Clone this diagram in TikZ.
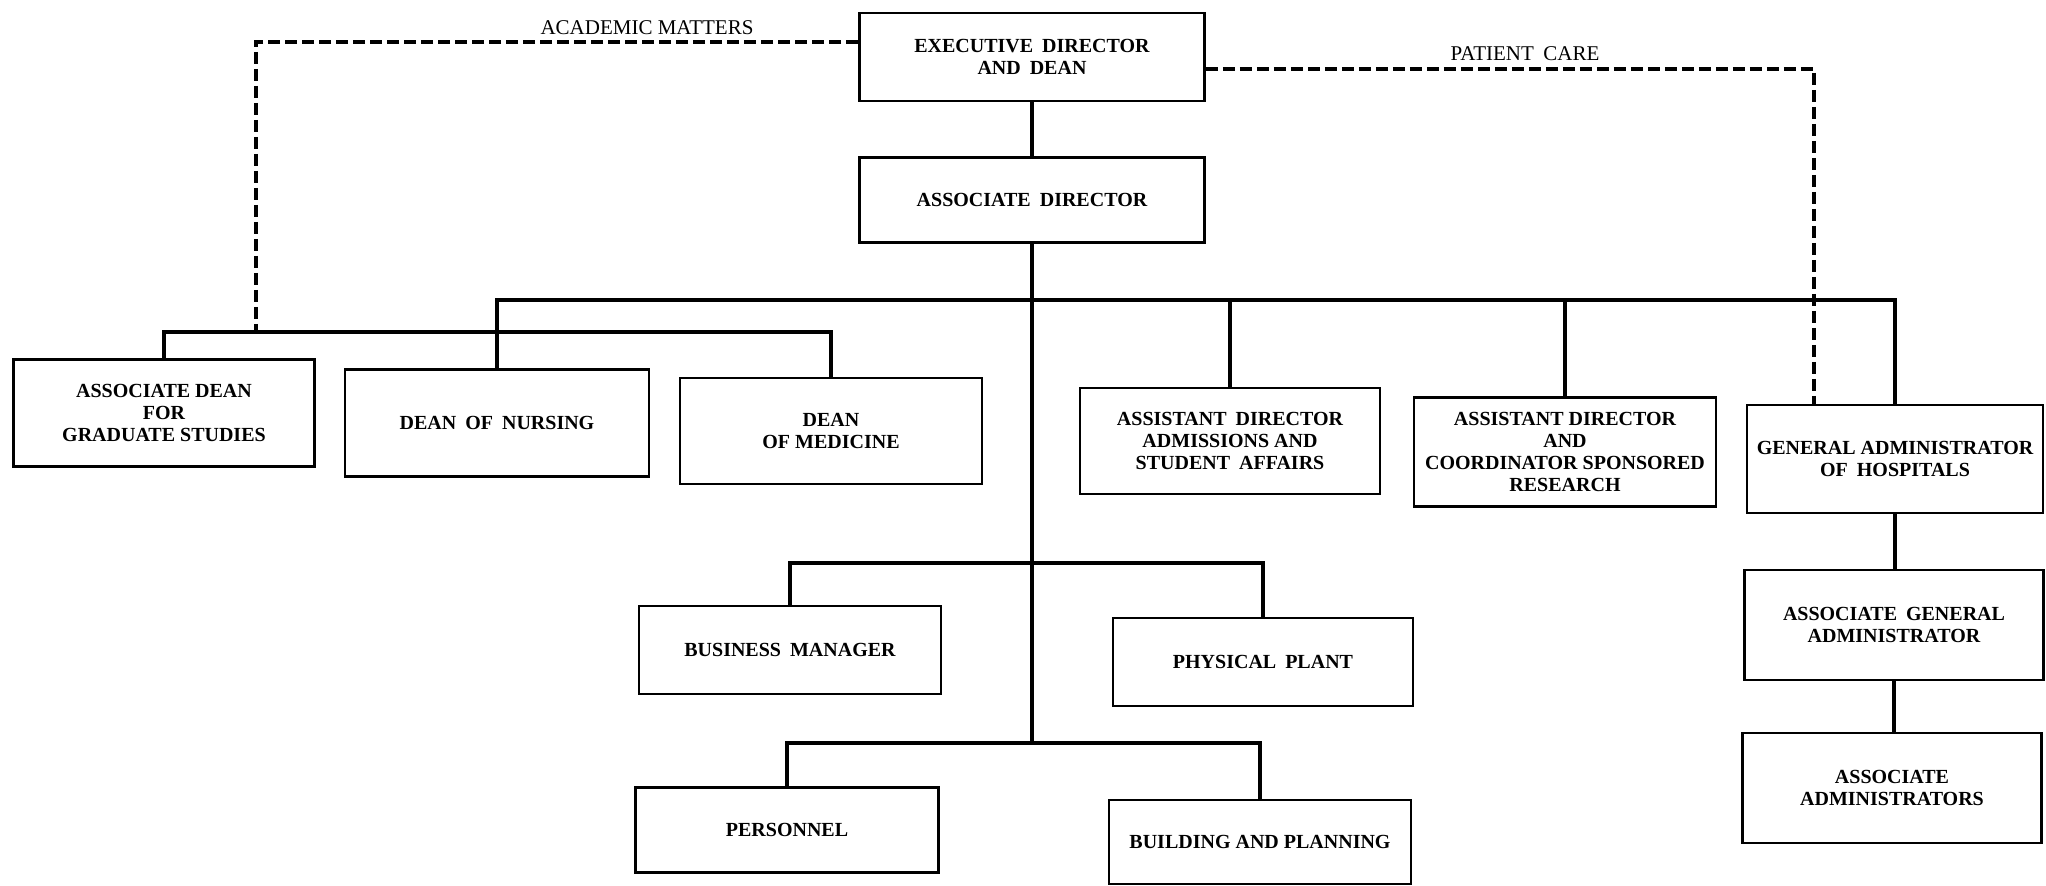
\documentclass[tikz,border=0pt]{standalone}
\usepackage{fontspec}
\setmainfont{Liberation Serif}
\newcommand{\ds}{\hspace{0.45em}}
\begin{document}
\begin{tikzpicture}[x=0.5pt,y=-0.5pt,
  bx/.style={draw, line width=1.4pt, inner sep=0pt, align=center,
    font=\bfseries\fontsize{10}{11}\selectfont},
  link/.style={line width=1.7pt},
  dotted link/.style={line width=1.7pt, dash pattern=on 6pt off 2.5pt},
  lbl/.style={font=\fontsize{10.5}{12}\selectfont, inner sep=0pt}]
\useasboundingbox (0,0) rectangle (2046,885);
% boxes
\node[bx, minimum width=172.5pt, minimum height=44pt] (exec) at (1032,57) {EXECUTIVE\ds DIRECTOR\\AND\ds DEAN};
\node[bx, minimum width=172.5pt, minimum height=42.5pt] (assocdir) at (1032,200) {ASSOCIATE\ds DIRECTOR};
\node[bx, minimum width=150.5pt, minimum height=53.5pt] (adgs) at (164,413) {ASSOCIATE DEAN\\FOR\\GRADUATE STUDIES};
\node[bx, minimum width=152pt, minimum height=53.5pt] (nursing) at (497,423) {DEAN\ds OF\ds NURSING};
\node[bx, minimum width=151pt, minimum height=53pt] (medicine) at (831,431) {DEAN\\OF MEDICINE};
\node[bx, minimum width=150pt, minimum height=53pt] (admissions) at (1230,441) {ASSISTANT\ds DIRECTOR\\ADMISSIONS AND\\STUDENT\ds AFFAIRS};
\node[bx, minimum width=151pt, minimum height=54.5pt] (coord) at (1565,452) {ASSISTANT DIRECTOR\\AND\\COORDINATOR SPONSORED\\RESEARCH};
\node[bx, minimum width=148pt, minimum height=54pt] (ga) at (1895,459) {GENERAL ADMINISTRATOR\\OF\ds HOSPITALS};
\node[bx, minimum width=149.5pt, minimum height=55pt] (aga) at (1894,625) {ASSOCIATE\ds GENERAL\\ADMINISTRATOR};
\node[bx, minimum width=149.5pt, minimum height=55pt] (aa) at (1892,788) {ASSOCIATE\\ADMINISTRATORS};
\node[bx, minimum width=151pt, minimum height=44pt] (bm) at (790,650) {BUSINESS\ds MANAGER};
\node[bx, minimum width=150pt, minimum height=44pt] (pp) at (1263,662) {PHYSICAL\ds PLANT};
\node[bx, minimum width=151.5pt, minimum height=42.5pt] (pers) at (787,830) {PERSONNEL};
\node[bx, minimum width=151pt, minimum height=42pt] (bp) at (1260,842) {BUILDING AND PLANNING};
% bus levels
\coordinate (ub) at (0,300);
\coordinate (lb) at (0,332);
\coordinate (mb1) at (0,563);
\coordinate (mb2) at (0,743);
% solid connectors
\draw[link] (exec.south) -- (assocdir.north);
\draw[link] (assocdir.south) -- (assocdir.south |- mb2);
\draw[link] (nursing.north) -- (nursing.north |- ub) -- (ga.north |- ub) -- (ga.north);
\draw[link] (admissions.north) -- (admissions.north |- ub);
\draw[link] (coord.north) -- (coord.north |- ub);
\draw[link] (adgs.north) -- (adgs.north |- lb) -- (medicine.north |- lb) -- (medicine.north);
\draw[link] (bm.north) -- (bm.north |- mb1) -- (pp.north |- mb1) -- (pp.north);
\draw[link] (pers.north) -- (pers.north |- mb2) -- (bp.north |- mb2) -- (bp.north);
\draw[link] (ga.south) -- (ga.south |- aga.north);
\draw[link] (aga.south) -- (aga.south |- aa.north);
% dashed connectors
\coordinate (am) at (256,42);
\coordinate (pc) at (1814,69);
\draw[dotted link] (exec.west |- am) -- (am) -- (am |- lb);
\draw[dotted link] (exec.east |- pc) -- (pc) -- (pc |- ga.north);
% labels
\node[lbl] (amlbl) at (647,28) {ACADEMIC MATTERS};
\node[lbl] (pclbl) at (1525,54) {PATIENT\ds CARE};
\end{tikzpicture}
\end{document}
